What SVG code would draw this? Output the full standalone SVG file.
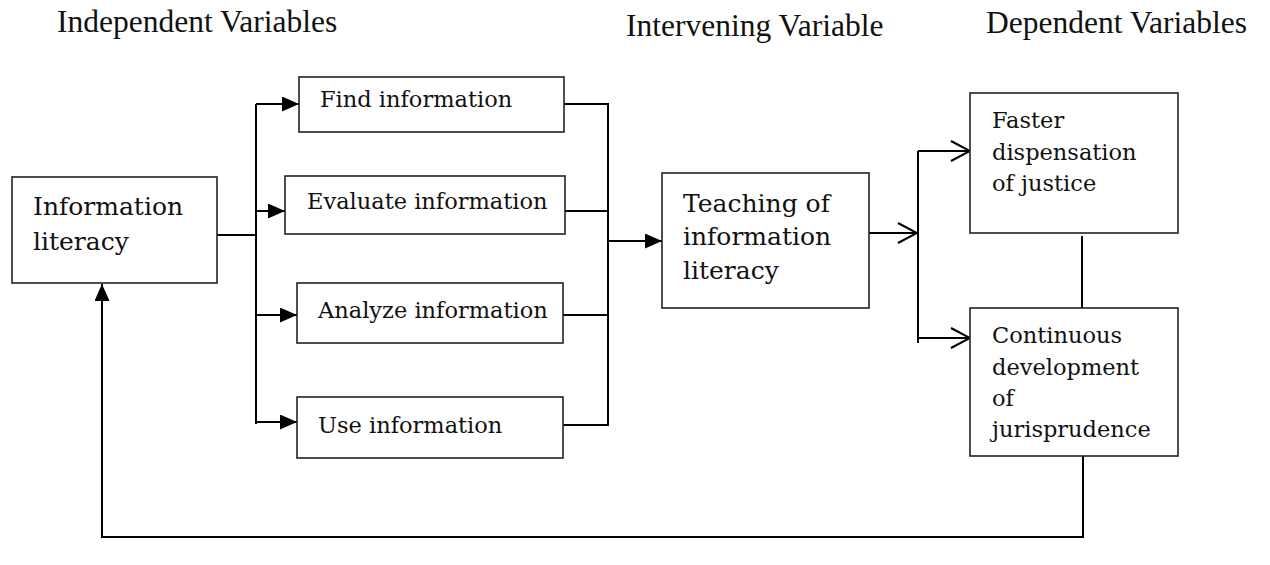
<svg xmlns="http://www.w3.org/2000/svg" width="1270" height="565" viewBox="0 0 1270 565">
<style>
.box{fill:#fff;stroke:#222;stroke-width:1.6}
.hdr{font-family:"Liberation Serif","Times New Roman",serif;font-size:31.5px;fill:#111}
.t{font-family:"DejaVu Serif","Liberation Serif",serif;font-size:22.5px;fill:#111}
.tl{font-family:"DejaVu Serif","Liberation Serif",serif;font-size:25px;fill:#111}
.c{fill:none;stroke:#000;stroke-width:2}
</style>
<defs>
<marker id="fa" markerUnits="userSpaceOnUse" markerWidth="17" markerHeight="15" refX="17" refY="7.5" orient="auto">
<path d="M0,0 L17,7.5 L0,15 z" fill="#000"/>
</marker>
<marker id="oa" markerUnits="userSpaceOnUse" markerWidth="22" markerHeight="24" refX="20" refY="12" orient="auto">
<path d="M1,2 L20,12 L1,22" fill="none" stroke="#000" stroke-width="2"/>
</marker>
</defs>
<g id="headers">
<text class="hdr" x="57" y="32">Independent Variables</text>
<text class="hdr" x="626" y="36">Intervening Variable</text>
<text class="hdr" x="986" y="33">Dependent Variables</text>
</g>
<g id="connectors">
<path class="c" d="M217,235 H256"/>
<path class="c" d="M256,104 V424"/>
<path class="c" d="M256,104 H299" marker-end="url(#fa)"/>
<path class="c" d="M256,211 H285" marker-end="url(#fa)"/>
<path class="c" d="M256,315 H297" marker-end="url(#fa)"/>
<path class="c" d="M256,422 H297" marker-end="url(#fa)"/>
<path class="c" d="M564,104 H608"/>
<path class="c" d="M563,211 H608"/>
<path class="c" d="M563,315 H608"/>
<path class="c" d="M563,425 H608"/>
<path class="c" d="M608,103 V426"/>
<path class="c" d="M608,241 H662" marker-end="url(#fa)"/>
<path class="c" d="M869,233 H917" marker-end="url(#oa)"/>
<path class="c" d="M918,151 V343"/>
<path class="c" d="M918,151 H970" marker-end="url(#oa)"/>
<path class="c" d="M918,338 H970" marker-end="url(#oa)"/>
<path class="c" d="M1082,236 V313"/>
<path class="c" d="M1083,456 V537 H102 V284" marker-end="url(#fa)"/>
</g>
<g id="info-literacy">
<rect class="box" x="12" y="177" width="205" height="106"/>
<text class="tl" x="33" y="215">Information</text>
<text class="tl" x="33" y="250">literacy</text>
</g>
<g id="find">
<rect class="box" x="299" y="77" width="265" height="55"/>
<text class="t" x="320" y="107">Find information</text>
</g>
<g id="evaluate">
<rect class="box" x="285" y="176" width="280" height="58"/>
<text class="t" x="307" y="209">Evaluate information</text>
</g>
<g id="analyze">
<rect class="box" x="297" y="283" width="266" height="60"/>
<text class="t" x="318" y="318">Analyze information</text>
</g>
<g id="use">
<rect class="box" x="297" y="397" width="266" height="61"/>
<text class="t" x="318" y="433">Use information</text>
</g>
<g id="teaching">
<rect class="box" x="662" y="173" width="207" height="135"/>
<text class="tl" x="683" y="212">Teaching of</text>
<text class="tl" x="683" y="245">information</text>
<text class="tl" x="683" y="279">literacy</text>
</g>
<g id="faster">
<rect class="box" x="970" y="93" width="208" height="140"/>
<text class="t" x="992" y="128">Faster</text>
<text class="t" x="992" y="160">dispensation</text>
<text class="t" x="992" y="191">of justice</text>
</g>
<g id="continuous">
<rect class="box" x="970" y="308" width="208" height="148"/>
<text class="t" x="992" y="343">Continuous</text>
<text class="t" x="992" y="375">development</text>
<text class="t" x="992" y="406">of</text>
<text class="t" x="992" y="437">jurisprudence</text>
</g>
</svg>
